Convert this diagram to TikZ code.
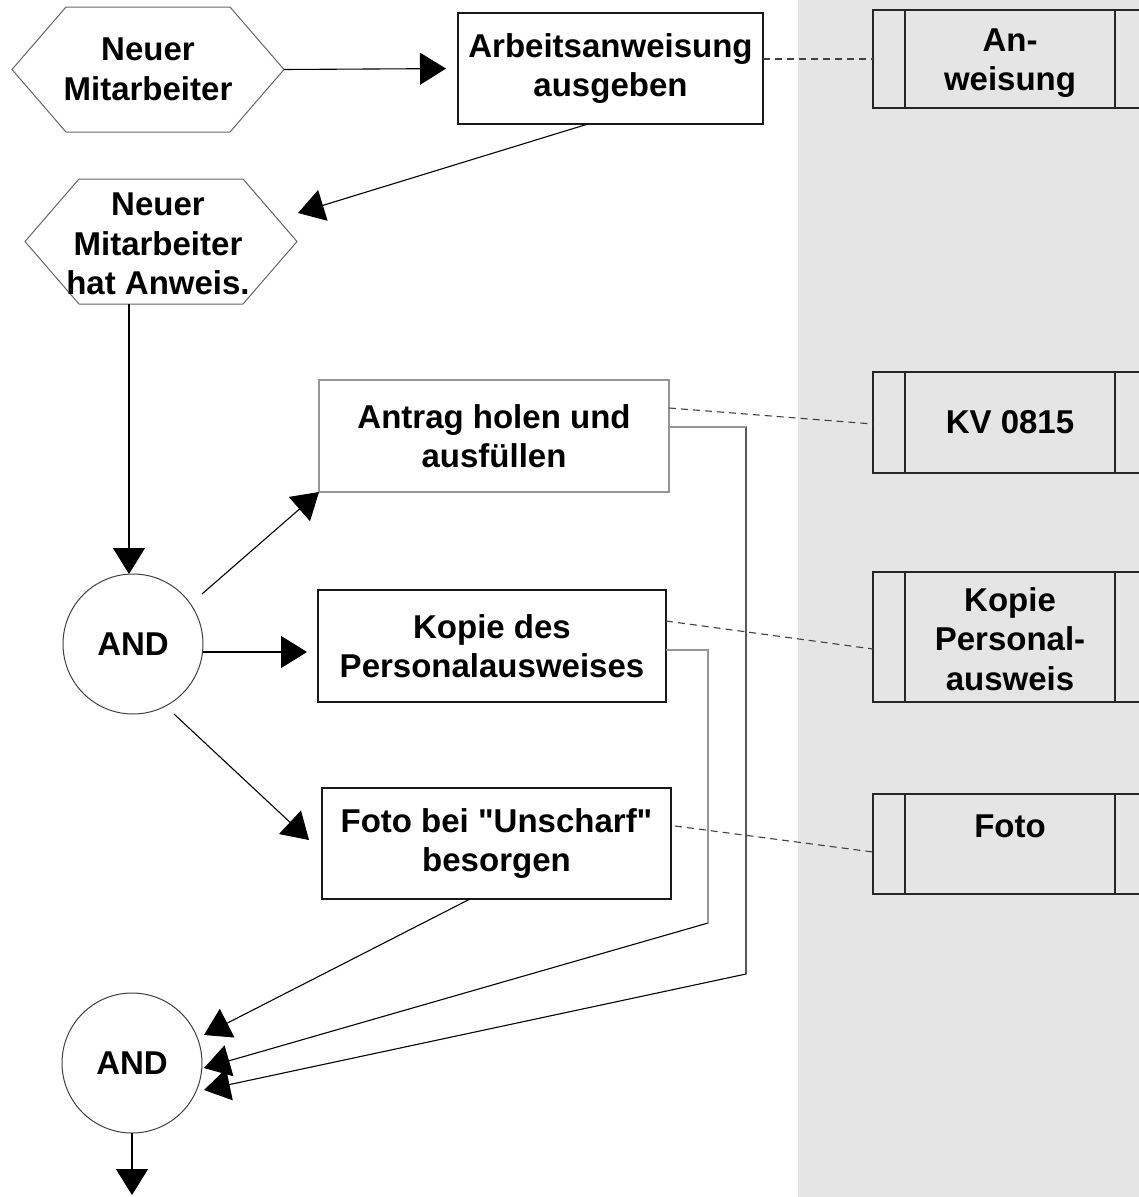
\documentclass[tikz,border=0pt]{standalone}
\usepackage{fontspec}
\setmainfont{Liberation Sans}[Ligatures=TeXOff]
\usetikzlibrary{arrows.meta,calc}
\definecolor{bggray}{RGB}{229,229,229}
\definecolor{softgray}{RGB}{150,150,150}
\begin{document}
\begin{tikzpicture}[x=1pt,y=-1pt,
  every node/.style={font=\fontsize{33}{39.5}\selectfont\bfseries, align=center, inner sep=0pt, outer sep=0pt},
  procbox/.style={draw=black!90, line width=1.3pt},
  hexnode/.style={minimum width=272pt, minimum height=125pt},
  hexline/.style={draw=black!60, line width=1pt},
  gatenode/.style={circle, draw=black!75, line width=1pt, minimum size=140pt},
  infobox/.style={draw=black!85, line width=1.3pt, minimum width=277pt},
  flowarrow/.style={-{Triangle[length=26pt,width=32pt]}, line width=1.1pt, black},
  linkline/.style={line width=1.1pt, dash pattern=on 7pt off 5pt, black!75},
]
\useasboundingbox (0,0) rectangle (1139,1197);
\clip (0,0) rectangle (1139,1197);
\fill[white] (0,0) rectangle (1139,1197);
\fill[bggray] (798,0) rectangle (1139,1197);

% hexagons
\node[hexnode] (hex1) at (148,69.5) {Neuer\\Mitarbeiter};
\draw[hexline] (hex1.west) -- ([xshift=54pt]hex1.north west) -- ([xshift=-54pt]hex1.north east)
  -- (hex1.east) -- ([xshift=-54pt]hex1.south east) -- ([xshift=54pt]hex1.south west) -- cycle;
\node[hexnode] (hex2) at (161,241.5) {};
\draw[hexline] (hex2.west) -- ([xshift=54pt]hex2.north west) -- ([xshift=-54pt]hex2.north east)
  -- (hex2.east) -- ([xshift=-54pt]hex2.south east) -- ([xshift=54pt]hex2.south west) -- cycle;
\node (hex2t) at (158,244) {Neuer\\Mitarbeiter\\hat Anweis.};

% process boxes
\node[procbox, minimum width=305pt, minimum height=111pt] (arb) at (610.5,68.5) {Arbeitsanweisung\\ausgeben};
\node[procbox, draw=softgray, minimum width=350pt, minimum height=112pt] (antrag) at (494,436) {Antrag holen und\\ausfüllen};
\node[procbox, minimum width=348pt, minimum height=112pt] (kopie) at (492,646) {Kopie des\\Personalausweises};
\node[procbox, minimum width=349pt, minimum height=111pt] (foto) at (496.5,843.5) {Foto bei "Unscharf"\\besorgen};

% gates
\node[gatenode] (and1) at (133,644) {AND};
\node[gatenode] (and2) at (132,1063) {AND};

% info objects
\node[infobox, minimum height=98pt] (inf1) at (1011.5,59) {};
\node[infobox, minimum height=101pt] (inf2) at (1011.5,422.5) {};
\node[infobox, minimum height=130pt] (inf3) at (1011.5,637) {};
\node[infobox, minimum height=100pt] (inf4) at (1011.5,844) {};
\foreach \n in {inf1,inf2,inf3,inf4}{
  \draw[black!85, line width=1.3pt] ([xshift=32pt]\n.north west) -- ([xshift=32pt]\n.south west);
  \draw[black!85, line width=1.3pt] ([xshift=242pt]\n.north west) -- ([xshift=242pt]\n.south west);
}
\node (inf1t) at (1010,63) {An-\\weisung};
\node (inf2t) at (1010,422) {KV 0815};
\node (inf3t) at (1010,639) {Kopie\\Personal-\\ausweis};
\node (inf4t) at (1010,826) {Foto};

% arrow end points
\coordinate (tipHex2) at (298,213);
\coordinate (tipFoto) at (309,840);
\coordinate (tipA) at (204,1035);
\coordinate (tipB) at (204,1068);
\coordinate (tipC) at (204,1090);
\coordinate (bendK) at (708,923);
\coordinate (bendA) at (746,974);
\coordinate (outEnd) at (132,1195);

% flow connectors
\draw[flowarrow, shorten >=12pt] (hex1.east) -- (arb.west);
\draw[flowarrow] ([xshift=-22.5pt]arb.south) -- (tipHex2);
\draw[flowarrow] ([xshift=-4pt]and1.north |- hex2.south) -- ([xshift=-4pt]and1.north);
\draw[flowarrow] ([shift={(69pt,50pt)}]and1.center) -- (antrag.south west);
\draw[flowarrow, shorten >=11pt] ([yshift=-8pt]and1.east) -- ([yshift=-8pt]and1.east -| kopie.west);
\draw[flowarrow] ([shift={(41pt,-70pt)}]and1.center) -- (tipFoto);
\draw[flowarrow] ([xshift=-26.5pt]foto.south) -- (tipA);
\draw[flowarrow] ([yshift=-4pt]kopie.east) -| (bendK) -- (tipB);
\draw[flowarrow] ([yshift=9pt]antrag.east) -| (bendA) -- (tipC);
\draw[flowarrow] (and2.south) -- (outEnd);
% gray overlays of the first segments
\draw[softgray, line width=1.2pt] ([yshift=-4pt]kopie.east) -| (bendK);
\draw[softgray, line width=1.2pt] ([yshift=9pt]antrag.east) -- ([yshift=9pt]antrag.east -| bendA);

% dashed links to info objects
\draw[linkline] ([yshift=9.5pt]arb.east) -- (inf1.west);
\draw[linkline] ([yshift=28pt]antrag.east) -- ([yshift=-1.5pt]inf2.west);
\draw[linkline] ([yshift=25pt]kopie.east) -- ([yshift=-12pt]inf3.west);
\draw[linkline] ([shift={(4pt,17.5pt)}]foto.east) -- ([yshift=-8pt]inf4.west);
\end{tikzpicture}
\end{document}
